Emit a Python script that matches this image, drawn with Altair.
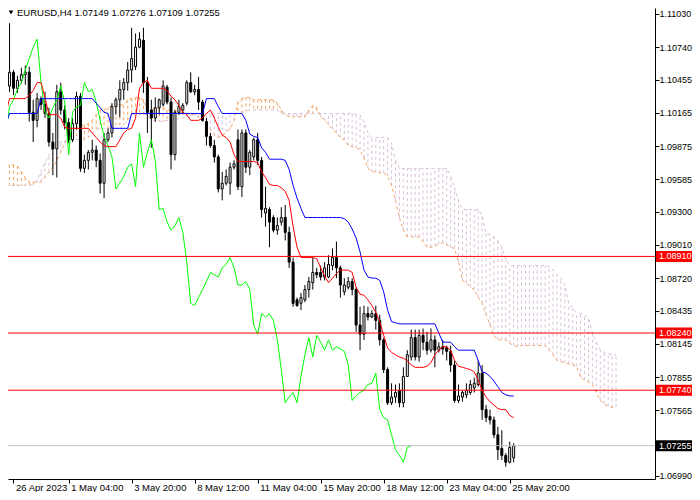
import altair as alt
import pandas as pd

symbol = "EURUSD"
timeframe = "H4"
FONT = "Liberation Sans"

# ---- candles (H4 bars, index 0 = 26 Apr 2023 12:00) ----
opens = [
1.1052,1.1040,1.1052,1.1038,1.1045,1.1050,1.1052,1.1017,1.1010,1.1029,
1.1024,1.1016,1.0991,1.0985,1.1035,1.1019,1.1008,1.0993,1.1007,1.1031,
1.0968,1.0975,1.0982,1.0984,1.0975,1.0955,1.0993,1.0999,1.1022,1.1028,
1.1037,1.1043,1.1054,1.1057,1.1074,1.1080,1.1043,1.1019,1.1012,1.1021,
1.1024,1.1039,1.1026,1.0980,1.1017,1.1019,1.1025,1.1043,1.1035,1.1037,
1.1026,1.1009,1.0996,1.0988,1.0978,1.0950,1.0955,1.0955,1.0969,1.0993,
1.0952,1.0999,1.0969,1.0978,1.0993,1.0975,1.0929,1.0932,1.0925,1.0914,
1.0921,1.0925,1.0912,1.0886,1.0853,1.0850,1.0853,1.0862,1.0868,1.0877,
1.0877,1.0873,1.0873,1.0883,1.0890,1.0881,1.0860,1.0864,1.0869,1.0862,
1.0831,1.0823,1.0841,1.0838,1.0841,1.0835,1.0818,1.0792,1.0763,1.0768,
1.0774,1.0763,1.0786,1.0803,1.0820,1.0803,1.0822,1.0816,1.0809,1.0818,
1.0809,1.0812,1.0811,1.0808,1.0796,1.0765,1.0768,1.0770,1.0772,1.0776,
1.0779,1.0789,1.0757,1.0751,1.0748,1.0735,1.0723,1.0717,1.0711,1.07149]
highs = [
1.1061,1.1095,1.1054,1.1049,1.1056,1.1058,1.1057,1.1028,1.1034,1.1031,
1.1035,1.1021,1.0999,1.1041,1.1043,1.1023,1.1012,1.1012,1.1035,1.1034,
1.0980,1.0984,1.0993,1.0988,1.0981,1.0999,1.1003,1.1025,1.1030,1.1045,
1.1047,1.1061,1.1091,1.1086,1.1087,1.1091,1.1048,1.1028,1.1030,1.1029,
1.1045,1.1041,1.1030,1.1019,1.1028,1.1025,1.1045,1.1052,1.1041,1.1048,
1.1028,1.1012,1.0999,1.0993,1.0980,1.0965,1.0967,1.0973,1.0975,1.1002,
1.1002,1.1002,1.0984,1.0995,1.0999,1.0978,1.0952,1.0934,1.0927,1.0925,
1.0934,1.0936,1.0917,1.0890,1.0855,1.0859,1.0866,1.0873,1.0890,1.0881,
1.0883,1.0886,1.0892,1.0898,1.0904,1.0883,1.0872,1.0873,1.0872,1.0864,
1.0847,1.0848,1.0847,1.0844,1.0848,1.0840,1.0820,1.0794,1.0780,1.0779,
1.0780,1.0794,1.0809,1.0827,1.0827,1.0827,1.0828,1.0825,1.0828,1.0822,
1.0816,1.0818,1.0813,1.0813,1.0800,1.0779,1.0774,1.0780,1.0783,1.0785,
1.0800,1.0796,1.0761,1.0757,1.0751,1.0742,1.0739,1.0719,1.0729,1.07276]
lows = [
1.1036,1.1035,1.1032,1.1034,1.1042,1.1041,1.1009,1.0991,1.1004,1.1019,
1.1012,1.0987,1.0962,1.0960,1.1015,1.1002,1.0990,1.0991,1.1002,1.0965,
1.0964,1.0967,1.0975,1.0969,1.0946,1.0942,1.0991,1.0995,1.1015,1.1013,
1.1028,1.1036,1.1043,1.1054,1.1073,1.1034,1.0999,1.0986,1.1009,1.1015,
1.1022,1.1024,1.0967,1.0975,1.1015,1.1016,1.1023,1.1034,1.1032,1.1019,
1.1009,1.0988,1.0986,1.0973,1.0947,1.0940,1.0953,1.0945,1.0967,1.0949,
1.0943,1.0964,1.0962,1.0975,1.0971,1.0925,1.0917,1.0899,1.0912,1.0910,
1.0918,1.0905,1.0881,1.0847,1.0847,1.0844,1.0851,1.0855,1.0862,1.0872,
1.0870,1.0870,1.0872,1.0879,1.0872,1.0855,1.0857,1.0862,1.0857,1.0825,
1.0809,1.0818,1.0835,1.0837,1.0827,1.0813,1.0789,1.0761,1.0761,1.0763,
1.0759,1.0759,1.0786,1.0800,1.0800,1.0799,1.0809,1.0805,1.0807,1.0794,
1.0807,1.0805,1.0800,1.0790,1.0763,1.0763,1.0764,1.0767,1.0770,1.0772,
1.0777,1.0748,1.0746,1.0744,1.0732,1.0713,1.0713,1.0707,1.0710,1.07109]
closes = [
1.1040,1.1052,1.1038,1.1045,1.1050,1.1052,1.1017,1.1010,1.1029,1.1024,
1.1016,1.0991,1.0985,1.1035,1.1019,1.1008,1.0993,1.1007,1.1031,1.0968,
1.0975,1.0982,1.0984,1.0975,1.0955,1.0993,1.0999,1.1022,1.1028,1.1037,
1.1043,1.1054,1.1064,1.1074,1.1081,1.1043,1.1017,1.1012,1.1021,1.1028,
1.1040,1.1026,1.0980,1.1017,1.1022,1.1023,1.1043,1.1035,1.1037,1.1026,
1.1010,1.0996,1.0988,1.0978,1.0950,1.0955,1.0961,1.0969,1.0972,1.0952,
1.0999,1.0969,1.0982,1.0993,1.0975,1.0932,1.0933,1.0921,1.0914,1.0918,
1.0925,1.0912,1.0886,1.0850,1.0848,1.0855,1.0862,1.0869,1.0877,1.0875,
1.0873,1.0881,1.0884,1.0890,1.0881,1.0866,1.0866,1.0869,1.0862,1.0831,
1.0823,1.0841,1.0838,1.0841,1.0835,1.0818,1.0792,1.0763,1.0768,1.0772,
1.0763,1.0786,1.0805,1.0820,1.0803,1.0822,1.0816,1.0809,1.0818,1.0809,
1.0812,1.0810,1.0808,1.0796,1.0765,1.0769,1.0772,1.0774,1.0779,1.0780,
1.0789,1.0757,1.0750,1.0748,1.0735,1.0722,1.0717,1.0711,1.0724,1.07255]

# ---- Ichimoku lines ----
tenkan = [
1.1015,1.1029,1.1029,1.1029,1.1029,1.1029,1.1032,1.1036,1.1043,1.1043,
1.1030,1.1015,1.1015,1.1015,1.1012,1.1004,1.1003,1.1003,1.1003,1.1003,
1.1003,1.1003,1.0999,1.0995,1.0991,1.0988,1.0987,1.0987,1.0987,1.0993,
1.0999,1.1002,1.1003,1.1012,1.1038,1.1043,1.1045,1.1038,1.1038,1.1038,
1.1038,1.1036,1.1031,1.1028,1.1023,1.1017,1.1015,1.1010,1.1010,1.1010,
1.1012,1.1016,1.1019,1.1012,1.1004,1.0997,1.0995,1.0991,1.0980,1.0974,
1.0974,1.0974,1.0974,1.0974,1.0973,1.0965,1.0960,1.0954,1.0953,1.0953,
1.0951,1.0948,1.0940,1.0917,1.0899,1.0890,1.0890,1.0890,1.0890,1.0889,
1.0881,1.0874,1.0868,1.0872,1.0876,1.0879,1.0879,1.0879,1.0877,1.0864,
1.0858,1.0857,1.0853,1.0848,1.0842,1.0834,1.0822,1.0811,1.0807,1.0805,
1.0803,1.0802,1.0800,1.0796,1.0794,1.0794,1.0794,1.0795,1.0798,1.0805,
1.0809,1.0812,1.0812,1.0809,1.0800,1.0795,1.0794,1.0793,1.0792,1.0790,
1.0783,1.0774,1.0768,1.0764,1.0761,1.0758,1.0757,1.0757,1.0752,1.0750]
kijun = [
1.1006,1.1016,1.1016,1.1016,1.1016,1.1016,1.1016,1.1016,1.1016,1.1029,
1.1029,1.1029,1.1029,1.1029,1.1029,1.1029,1.1029,1.1029,1.1029,1.1029,
1.1029,1.1029,1.1029,1.1025,1.1021,1.1017,1.1016,1.1003,1.1003,1.1003,
1.1003,1.1003,1.1016,1.1016,1.1016,1.1016,1.1016,1.1016,1.1016,1.1016,
1.1016,1.1016,1.1016,1.1016,1.1016,1.1016,1.1016,1.1016,1.1016,1.1016,
1.1016,1.1029,1.1029,1.1029,1.1022,1.1016,1.1016,1.1016,1.1016,1.1016,
1.1016,1.1010,1.0998,1.0996,1.0995,1.0986,1.0982,1.0976,1.0976,1.0976,
1.0976,1.0975,1.0967,1.0953,1.0942,1.0933,1.0925,1.0925,1.0925,1.0925,
1.0925,1.0925,1.0925,1.0925,1.0925,1.0925,1.0924,1.0921,1.0915,1.0907,
1.0895,1.0879,1.0873,1.0872,1.0872,1.0870,1.0860,1.0844,1.0834,1.0833,
1.0832,1.0832,1.0832,1.0832,1.0832,1.0832,1.0832,1.0832,1.0832,1.0832,
1.0824,1.0816,1.0816,1.0816,1.0812,1.0809,1.0809,1.0809,1.0809,1.0809,
1.0800,1.0790,1.0789,1.0786,1.0782,1.0777,1.0772,1.0770,1.0769,1.0769]
span_a = [
1.0971,1.0971,1.0971,1.0970,1.0965,1.0960,1.0956,1.0956,1.0956,1.0956,
1.0960,1.0965,1.0969,1.0975,1.0982,1.0990,1.0995,1.1000,1.1004,1.1005,
1.1006,1.1007,1.1010,1.1015,1.1019,1.1019,1.1021,1.1023,1.1024,1.1024,
1.1023,1.1028,1.1029,1.1030,1.1030,1.1028,1.1019,1.1019,1.1021,1.1021,
1.1021,1.1019,1.1019,1.1019,1.1017,1.1017,1.1016,1.1015,1.1015,1.1013,
1.1010,1.1006,1.1002,1.0997,1.0995,1.0996,1.1000,1.1002,1.1010,1.1026,
1.1029,1.1030,1.1030,1.1028,1.1028,1.1028,1.1028,1.1028,1.1028,1.1025,
1.1019,1.1015,1.1013,1.1013,1.1013,1.1013,1.1013,1.1019,1.1023,1.1021,
1.1013,1.1010,1.1006,1.1002,1.0999,1.0995,1.0993,1.0988,1.0987,1.0986,
1.0984,1.0977,1.0968,1.0965,1.0965,1.0964,1.0964,1.0961,1.0953,1.0940,
1.0925,1.0914,1.0908,1.0908,1.0908,1.0908,1.0904,1.0899,1.0899,1.0900,
1.0902,1.0903,1.0901,1.0899,1.0898,1.0886,1.0870,1.0868,1.0864,1.0862,
1.0855,1.0850,1.0840,1.0831,1.0822,1.0818,1.0818,1.0818,1.0815,1.0813,
1.0812,1.0813,1.0813,1.0813,1.0813,1.0813,1.0813,1.0813,1.0809,1.0805,
1.0800,1.0799,1.0798,1.0797,1.0796,1.0795,1.0785,1.0783,1.0781,1.0779,
1.0772,1.0765,1.0762,1.0760,1.0759,1.0759]
span_b = [
1.0953,1.0953,1.0953,1.0953,1.0953,1.0953,1.0953,1.0954,1.0958,1.0965,
1.0973,1.0980,1.0987,1.0990,1.0991,1.0992,1.0993,1.0993,1.0993,1.0993,
1.0993,1.0995,1.0999,1.1002,1.1003,1.1003,1.1003,1.1003,1.1003,1.1003,
1.1006,1.1010,1.1015,1.1015,1.1015,1.1015,1.1015,1.1010,1.1009,1.1009,
1.1009,1.1010,1.1010,1.1010,1.1012,1.1012,1.1013,1.1014,1.1015,1.1015,
1.1016,1.1016,1.1016,1.1016,1.1016,1.1016,1.1016,1.1016,1.1016,1.1016,
1.1017,1.1018,1.1019,1.1019,1.1019,1.1019,1.1019,1.1019,1.1019,1.1019,
1.1016,1.1016,1.1016,1.1016,1.1016,1.1016,1.1016,1.1016,1.1016,1.1016,
1.1016,1.1016,1.1016,1.1016,1.1016,1.1016,1.1016,1.1016,1.1016,1.1015,
1.1015,1.1009,1.0999,1.0995,1.0995,1.0995,1.0995,1.0995,1.0990,1.0975,
1.0968,1.0968,1.0968,1.0968,1.0968,1.0968,1.0968,1.0968,1.0968,1.0968,
1.0968,1.0968,1.0968,1.0962,1.0951,1.0940,1.0932,1.0932,1.0932,1.0932,
1.0932,1.0927,1.0911,1.0910,1.0908,1.0905,1.0899,1.0888,1.0883,1.0883,
1.0883,1.0883,1.0883,1.0883,1.0883,1.0883,1.0883,1.0883,1.0882,1.0879,
1.0875,1.0872,1.0866,1.0850,1.0846,1.0842,1.0841,1.0840,1.0837,1.0824,
1.0816,1.0809,1.0807,1.0806,1.0805,1.0805]
chikou_shift = 26

# ---- horizontal levels and axis ticks ----
level_prices = [1.08910, 1.08240, 1.07740]
y_ticks = [1.11030, 1.10740, 1.10455, 1.10165, 1.09875, 1.09585, 1.09300,
           1.09010, 1.08720, 1.08435, 1.08145, 1.07855, 1.07565, 1.06990]
x_tick_bars = [2, 16, 32, 48, 64, 80, 96, 112, 128]
x_tick_labels = ["26 Apr 2023", "1 May 04:00", "3 May 20:00", "8 May 12:00",
                 "11 May 04:00", "15 May 20:00", "18 May 12:00",
                 "23 May 04:00", "25 May 20:00"]

n = len(closes)
bar_idx = list(range(n))
candles = pd.DataFrame({"bar": bar_idx, "open": opens, "high": highs,
                        "low": lows, "close": closes})
ind = pd.DataFrame({"bar": bar_idx, "tenkan": tenkan, "kijun": kijun})
chik = pd.DataFrame({"bar": [i - chikou_shift for i in bar_idx], "chikou": closes})
cloud = pd.DataFrame({"bar": list(range(len(span_a))), "a": span_a, "b": span_b})
levels = pd.DataFrame({"price": level_prices})
current = pd.DataFrame({"price": [closes[-1]]})
title_txt = "%s,%s  %.5f %.5f %.5f %.5f" % (symbol, timeframe, opens[-1], highs[-1], lows[-1], closes[-1])
title_df = pd.DataFrame({"t": [title_txt]})

# page has an 8px margin on every side: keep the whole SVG inside 684 x 484
W, H = 647, 471
PAD_R, PAD_B = 37, 13
xs = alt.Scale(domain=[1.875, 163.625], nice=False, zero=False)
ys = alt.Scale(domain=[1.069635, 1.110824], nice=False, zero=False)

label_expr = ("[" + ",".join("'%s'" % s for s in x_tick_labels) + "][indexof(["
              + ",".join(str(v) for v in x_tick_bars) + "], datum.value)]")
x_axis = alt.Axis(values=x_tick_bars, labelExpr=label_expr, title=None, grid=False,
                  orient="bottom", tickSize=4, tickColor="black", domainColor="black",
                  labelColor="black", labelFont=FONT, labelFontSize=9.5,
                  labelAlign="left", labelBaseline="top", labelPadding=-1, labelOffset=2,
                  labelOverlap=False, labelFlush=False)
y_axis = alt.Axis(values=y_ticks, format=".5f", title=None, grid=False, orient="right",
                  tickSize=4, tickColor="black", domainColor="black", labelColor="black",
                  labelFont=FONT, labelFontSize=9, labelPadding=0, labelOverlap=False)

def X():
    return alt.X("bar:Q", scale=xs, axis=x_axis, title=None)

def Y(field):
    return alt.Y(field, scale=ys, axis=y_axis, title=None)

hatch = alt.Chart(cloud).mark_rule(strokeDash=[3, 3], strokeWidth=1, clip=True).encode(
    x=X(), y=Y("a:Q"), y2="b:Q",
    color=alt.condition("datum.a >= datum.b", alt.value("#F4A460"), alt.value("#D8BFD8")))
line_a = alt.Chart(cloud).mark_line(color="#F4A460", strokeDash=[3, 3], strokeWidth=1, clip=True).encode(
    x=X(), y=Y("a:Q"))
line_b = alt.Chart(cloud).mark_line(color="#D8BFD8", strokeDash=[3, 3], strokeWidth=1, clip=True).encode(
    x=X(), y=Y("b:Q"))

wicks = alt.Chart(candles).mark_rule(color="black", strokeWidth=1, clip=True).encode(
    x=X(), y=Y("low:Q"), y2="high:Q")
bodies = alt.Chart(candles).mark_bar(size=2, stroke="black", strokeWidth=1, clip=True,
                                     orient="vertical").encode(
    x=X(), y=Y("open:Q"), y2="close:Q",
    fill=alt.condition("datum.close >= datum.open", alt.value("white"), alt.value("black")))

chikou_l = alt.Chart(chik).mark_line(color="#00ff00", strokeWidth=1, clip=True).encode(
    x=X(), y=Y("chikou:Q"))
tenkan_l = alt.Chart(ind).mark_line(color="#ff0000", strokeWidth=1, clip=True).encode(
    x=X(), y=Y("tenkan:Q"))
kijun_l = alt.Chart(ind).mark_line(color="#0000ff", strokeWidth=1, clip=True).encode(
    x=X(), y=Y("kijun:Q"))

level_rules = alt.Chart(levels).mark_rule(color="#ff0000", strokeWidth=1).encode(
    y=Y("price:Q"))
cur_rule = alt.Chart(current).mark_rule(color="#c0c0c0", strokeWidth=1).encode(
    y=Y("price:Q"))

def box(df, fill):
    r = alt.Chart(df).transform_calculate(lo="datum.price - 0.00048", hi="datum.price + 0.00048").mark_rect(
        color=fill).encode(x=alt.value(W + 1), x2=alt.value(W + PAD_R),
                           y=Y("lo:Q"), y2="hi:Q")
    t = alt.Chart(df).mark_text(align="left", baseline="middle", color="white", font=FONT,
                                fontSize=9).encode(
        x=alt.value(W + 4), y=Y("price:Q"),
        text=alt.Text("price:Q", format=".5f"))
    return [r, t]

tri = alt.Chart(title_df).mark_point(shape="triangle-down", filled=True, color="black",
                                     size=22, opacity=1).encode(x=alt.value(3), y=alt.value(4.5))
ttl = alt.Chart(title_df).mark_text(align="left", baseline="middle", color="black", font=FONT,
                                    fontSize=9.5).encode(x=alt.value(9), y=alt.value(4.5), text="t:N")

chart = alt.layer(
    hatch, line_a, line_b, wicks, bodies, chikou_l, tenkan_l, kijun_l,
    level_rules, cur_rule, *box(levels, "#ff0000"), *box(current, "#000000"), tri, ttl
).properties(
    width=W, height=H,
    autosize=alt.AutoSizeParams(type="none"),
    padding={"left": 0, "top": 0, "right": PAD_R, "bottom": PAD_B},
    background="white",
).configure_view(strokeWidth=0)

chart.save("out.html", embed_options={"renderer": "svg", "actions": False})
